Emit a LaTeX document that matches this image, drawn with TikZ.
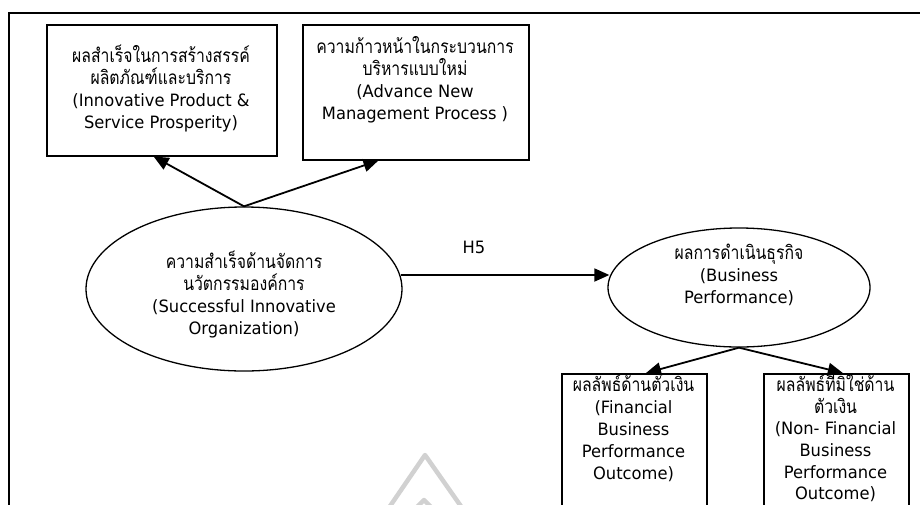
\documentclass[tikz,border=0pt]{standalone}
\usepackage{fontspec}
\setmainfont[FakeStretch=0.96]{DejaVu Sans}
\newfontfamily\thaifont[Script=Thai,FakeStretch=0.83]{Loma}
\newcommand{\thtext}[1]{{\thaifont\fontsize{19}{22}\selectfont #1}}
\usetikzlibrary{arrows.meta,shapes.geometric,calc}

\begin{document}
\begin{tikzpicture}[x=1pt,y=-1pt,
  frame/.style={line width=1.6pt},
  box/.style={draw, line width=1.5pt, rectangle, inner sep=0pt, anchor=north west},
  oval/.style={draw, line width=1.3pt, ellipse, inner sep=0pt},
  lbl/.style={align=center, font=\fontsize{17}{22}\selectfont, inner sep=0pt},
  link/.style={line width=1.8pt, -{Triangle[length=15pt,width=13pt]}},
  mark grey/.style={line width=4.5pt, color=black!18, line join=round}
]
\useasboundingbox (0,0) rectangle (920,504);
\clip (0,0) rectangle (920,504);

% outer frame (runs past the page edge on the right and bottom)
\draw[frame] (9,530) -- (9,13) -- (940,13);

% faint mark near the bottom edge
\draw[mark grey] (386,512) -- (425,455) -- (465,512);
\draw[mark grey] (412,512) -- (424,500) -- (436,512);

% boxes
\node[box, minimum width=230pt, minimum height=131pt] (b1) at (46,24) {};
\node[box, minimum width=226pt, minimum height=135pt] (b2) at (302,24) {};
\node[box, minimum width=145pt, minimum height=200pt] (b3) at (561,373) {};
\node[box, minimum width=145pt, minimum height=200pt] (b4) at (763,373) {};

% ellipses
\node[oval, minimum width=316pt, minimum height=164pt] (e1) at (244,289) {};
\node[oval, minimum width=262pt, minimum height=119pt] (e2) at (739,287.5) {};

% texts
\node[lbl] (t1) at (161,88) {\thtext{ผลสำเร็จในการสร้างสรรค์}\\\thtext{ผลิตภัณฑ์และบริการ}\\(Innovative Product \&\\Service Prosperity)};
\node[lbl] (t2) at (415,80) {\thtext{ความก้าวหน้าในกระบวนการ}\\\thtext{บริหารแบบใหม่}\\ (Advance New\\Management Process )};
\node[lbl] (t3) at (244,294.5) {\thtext{ความสำเร็จด้านจัดการ}\\\thtext{นวัตกรรมองค์การ}\\(Successful Innovative\\Organization)};
\node[lbl] (t4) at (739,274.5) {\thtext{ผลการดำเนินธุรกิจ}\\(Business\\Performance)};
\node[lbl] (t5) at (633.5,428.5) {\thtext{ผลลัพธ์ด้านตัวเงิน}\\(Financial\\Business\\Performance\\Outcome)};
\node[lbl, font=\fontsize{17}{21.6}\selectfont] (t6) at (835.5,437) {\thtext{ผลลัพธ์ที่มิใช่ด้าน}\\\thtext{ตัวเงิน}\\(Non- Financial\\Business\\Performance\\Outcome)};
\node[lbl] (h5) at (474,247) {H5};

% connectors
\draw[link] (e1.north) -- ($(b1.south west)!0.465!(b1.south east)$);
\draw[link] (e1.north) -- ($(b2.south west)!0.336!(b2.south east)$);
\draw[link] ($(e1.east)+(-2,-14)$) -- ($(e2.west)+(2,-12.5)$);
\draw[link] (e2.south) -- ($(b3.north west)!0.58!(b3.north east)$);
\draw[link] (e2.south) -- ($(b4.north west)!0.545!(b4.north east)$);
\end{tikzpicture}
\end{document}
